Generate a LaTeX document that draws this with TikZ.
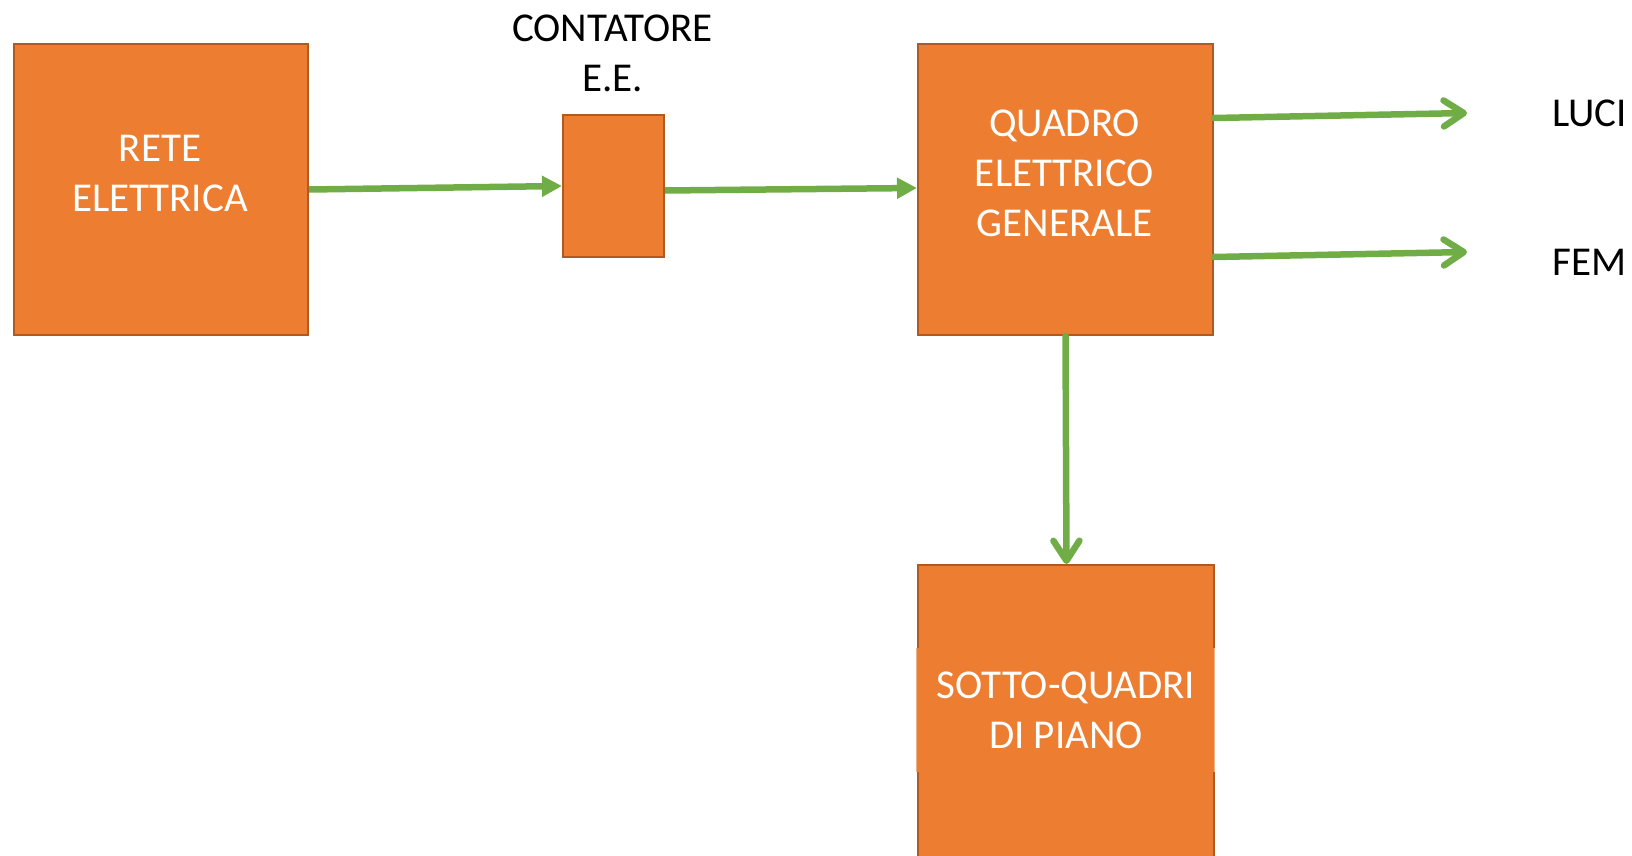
\documentclass[tikz,border=0pt]{standalone}
\usepackage{fontspec}
\setmainfont{Carlito}
\usetikzlibrary{arrows.meta}
\definecolor{boxfill}{HTML}{ED7D31}
\definecolor{boxedge}{HTML}{AE5A21}
\definecolor{boxlight}{HTML}{E9B48A}
\definecolor{arrgreen}{HTML}{70AD47}
\tikzset{
  box/.style={draw=boxedge, fill=boxfill, line width=2pt, inner sep=0pt, anchor=north west},
  wtxt/.style={text=white, font=\fontsize{41}{50}\selectfont, align=center, inner sep=0pt, anchor=base},
  btxt/.style={text=black, font=\fontsize{41}{50}\selectfont, align=center, inner sep=0pt, anchor=base},
  solidarr/.style={draw=arrgreen, line width=6.5pt, -{Triangle[length=20pt,width=20pt]}},
  openarr/.style={draw=arrgreen, line width=6.5pt, line cap=round, -{Straight Barb[length=20pt,width=26pt,line cap=round,line join=round]}}
}
\begin{document}
\begin{tikzpicture}[x=1pt,y=-1pt]
\useasboundingbox (0,0) rectangle (1632,856);
% boxes
\node[box, minimum width=294.5pt, minimum height=291pt] (rete) at (12.5,43) {};
\node[box, minimum width=101pt, minimum height=142pt] (cont) at (562,114) {};
\node[box, minimum width=295pt, minimum height=291pt] (quadro) at (917,43) {};
\node[box, minimum width=296pt, minimum height=320pt] (sotto) at (917,564) {};
\node[fill=boxfill, inner sep=0pt, anchor=north west, minimum width=298pt, minimum height=124pt] (sottotxt) at (916,648) {};
\draw[boxlight, line width=1pt] (sottotxt.north west) -- (sottotxt.south west);
\draw[boxlight, line width=1pt] (sottotxt.north east) -- (sottotxt.south east);
% texts (base anchor = baseline of last line)
\node[wtxt] (retelbl) at (160,211) {RETE\\ELETTRICA};
\node[btxt] (contlbl) at (612.5,92) {CONTATORE\\E.E.};
\node[wtxt] (quadrolbl) at (1064.5,236) {QUADRO\\ELETTRICO\\GENERALE};
\node[wtxt] (sottolbl) at (1066,748) {SOTTO-QUADRI\\DI PIANO};
\node[btxt, anchor=base west] (luci) at (1552,127) {LUCI};
\node[btxt, anchor=base west] (fem) at (1552,275) {FEM};
% arrow end points
\coordinate (luciend) at (1467,113);
\coordinate (femend) at (1467,252);
% connectors
\draw[solidarr] (rete.east) -- (cont.west);
\draw[solidarr] ([yshift=-4.5pt]cont.east) -- ([yshift=1.5pt]quadro.west);
\draw[openarr] ([yshift=71.5pt]quadro.east) -- (luciend);
\draw[openarr] ([yshift=-67.5pt]quadro.east) -- (femend);
\draw[openarr] (quadro.south) -- ([xshift=0.5pt]sotto.north);
\end{tikzpicture}
\end{document}
